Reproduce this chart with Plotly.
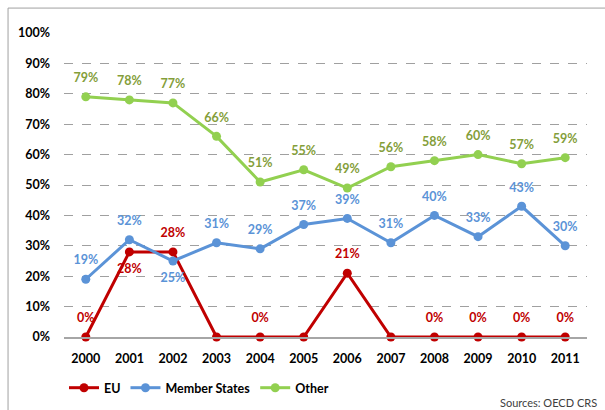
import plotly.graph_objects as go

years = ["2000", "2001", "2002", "2003", "2004", "2005", "2006", "2007", "2008", "2009", "2010", "2011"]
eu = [0, 28, 28, 0, 0, 0, 21, 0, 0, 0, 0, 0]
member_states = [19, 32, 25, 31, 29, 37, 39, 31, 40, 33, 43, 30]
other = [79, 78, 77, 66, 51, 55, 49, 56, 58, 60, 57, 59]

eu_labels = ["0%", "28%", "28%", "", "0%", "", "21%", "", "0%", "0%", "0%", "0%"]
eu_pos = ["top center", "bottom center", "top center", "top center", "top center", "top center",
          "top center", "top center", "top center", "top center", "top center", "top center"]
ms_pos = ["top center", "top center", "bottom center"] + ["top center"] * 9

y_ticks = [0, 10, 20, 30, 40, 50, 60, 70, 80, 90, 100]
y_tick_labels = [f"{v}%" for v in y_ticks]

FONT = "Lato, 'Open Sans', sans-serif"
C_EU = "#C00000"
C_MS = "#5B93D7"
C_OT = "#92D050"

series = [
    ("EU", eu, C_EU, eu_labels, eu_pos, C_EU),
    ("Member States", member_states, C_MS, [f"{v}%" for v in member_states], ms_pos, "#5B93D7"),
    ("Other", other, C_OT, [f"{v}%" for v in other], ["top center"] * 12, "#849E3A"),
]

fig = go.Figure()
for name, vals, col, labels, pos, tcol in series:
    fig.add_trace(go.Scatter(
        x=years, y=vals, name=name, mode="lines+markers",
        line=dict(color=col, width=3), marker=dict(color=col, size=9),
        cliponaxis=False,
    ))
for name, vals, col, labels, pos, tcol in series:
    fig.add_trace(go.Scatter(
        x=years, y=vals, name=name + " labels", mode="markers+text", showlegend=False,
        marker=dict(color="rgba(0,0,0,0)", size=17),
        text=labels, textposition=pos, hoverinfo="skip",
        textfont=dict(color=tcol, size=12.5, family=FONT, weight="bold"),
        cliponaxis=False,
    ))

fig.update_layout(
    width=605, height=410,
    margin=dict(l=64, r=18, t=33, b=73, autoexpand=False),
    paper_bgcolor="white", plot_bgcolor="white",
    font=dict(family=FONT, size=12, color="black"),
    showlegend=True,
    legend=dict(orientation="h", x=0.0, y=-0.168, xanchor="left", yanchor="middle",
                font=dict(size=12.5, family=FONT, weight="bold", color="black"),
                itemwidth=30, tracegroupgap=0, bgcolor="rgba(0,0,0,0)"),
)
fig.update_xaxes(
    type="category", range=[-0.5, 11.5], showgrid=False, automargin=False,
    showline=True, linecolor="#A6A6A6", linewidth=1.5,
    ticks="", tickfont=dict(size=12.5, family=FONT, weight="bold", color="black"),
    ticklabelstandoff=9, zeroline=False,
)
fig.update_yaxes(
    range=[0, 100], tickvals=y_ticks, ticktext=y_tick_labels, automargin=False,
    showgrid=True, gridcolor="#A0A0A0", griddash="dash", gridwidth=1,
    zeroline=False, showline=False, ticks="",
    tickfont=dict(size=12.5, family=FONT, weight="bold", color="black"),
    ticklabelstandoff=13,
)
fig.add_annotation(xref="paper", yref="paper", x=1.022, y=-0.215, text="Sources: OECD CRS",
                   showarrow=False, xanchor="right", yanchor="middle",
                   font=dict(size=11, family=FONT, color="#404040"))
fig.add_shape(type="rect", xref="paper", yref="paper", x0=-0.107, y0=-0.4, x1=1.2, y1=1.082,
              line=dict(color="#A0A0A0", width=1), fillcolor="rgba(0,0,0,0)", layer="below")

fig.write_html("out.html", config={"displayModeBar": False},
               post_script="document.body.style.margin='0';")
